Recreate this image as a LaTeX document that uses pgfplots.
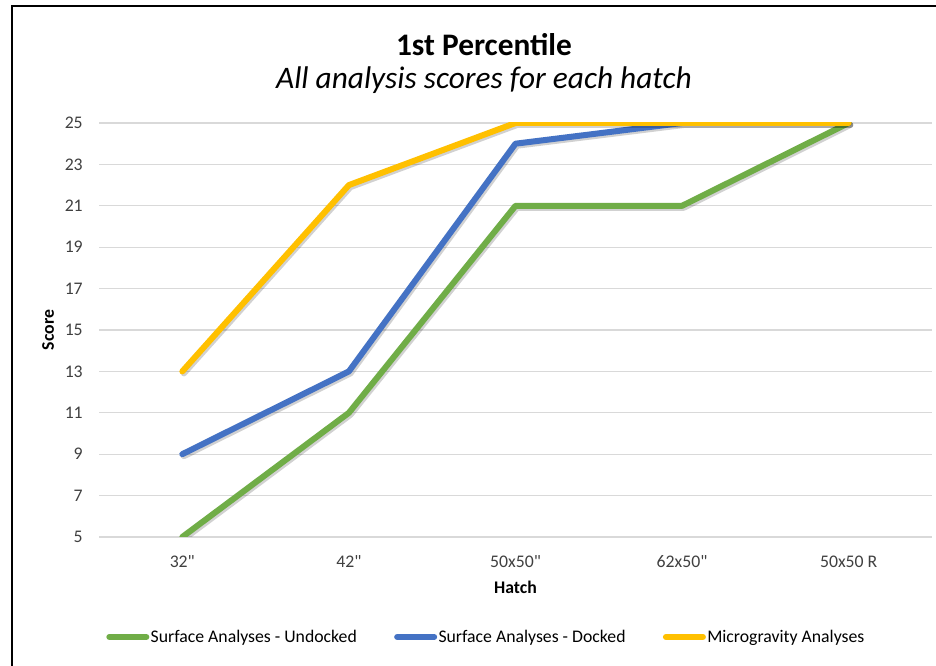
\documentclass[border=0pt]{standalone}
\usepackage{fontspec}
\setmainfont{Carlito}
\usepackage{pgfplots}
\pgfplotsset{compat=1.18}
\definecolor{sgreen}{HTML}{70AD47}
\definecolor{sblue}{HTML}{4472C4}
\definecolor{syellow}{HTML}{FFC000}
\definecolor{gridgray}{HTML}{D9D9D9}
\definecolor{labgray}{HTML}{404040}

\begin{document}
\begin{tikzpicture}[x=0.75pt,y=0.75pt]
\path[use as bounding box, clip] (0,0) rectangle (936,666);
\fill[white] (0,0) rectangle (936,666);
\draw[line width=1.6pt] (12,-20) -- (12,660) -- (960,660);
\node[font=\fontsize{23.5}{28}\selectfont\bfseries] at (484,621) {1st Percentile};
\node[font=\fontsize{23.5}{28}\selectfont\itshape] at (484,586) {All analysis scores for each hatch};
\begin{axis}[
    at={(74.25pt,96.75pt)}, anchor=south west,
    scale only axis,
    width=624.75pt, height=310.5pt,
    xmin=-0.5, xmax=4.5,
    ymin=5, ymax=25,
    ytick={5,7,...,25},
    xtick={0,1,2,3,4},
    xticklabels={32\textquotedbl,42\textquotedbl,50x50\textquotedbl,62x50\textquotedbl,50x50 R},
    axis line style={draw=none},
    tick style={draw=none},
    ymajorgrids=true,
    grid style={gridgray, line width=1pt},
    ticklabel style={font=\fontsize{13.3}{16}\selectfont, text=labgray},
    /pgf/number format/assume math mode=true,
    yticklabel style={inner sep=0pt, anchor=east, xshift=-12pt},
    xticklabel style={inner sep=0pt, anchor=center, yshift=-18.75pt},
    xlabel={Hatch},
    ylabel={Score},
    label style={font=\fontsize{13.3}{16}\selectfont\bfseries},
    xlabel style={at={(axis description cs:0.5,-0.121)}, anchor=center},
    ylabel style={at={(axis description cs:-0.0612,0.5)}, anchor=center},
    legend columns=3,
    legend style={at={(0.4646,-0.2415)}, anchor=center, draw=none, fill=none,
        font=\fontsize{13.3}{16}\selectfont,
        /tikz/every even column/.append style={column sep=27pt},
        nodes={inner sep=1pt}},
    legend image code/.code={\draw[#1, line cap=round] (2.25pt,0pt) -- (30pt,0pt);},
    every axis plot/.append style={line width=4.5pt, line cap=round, line join=round},
]
% shadow + line per series, in Excel draw order
\addplot[black, opacity=0.18, xshift=1.2pt, yshift=-1.5pt, forget plot] coordinates {(0,5) (1,11) (2,21) (3,21) (4,25)};
\addplot[sgreen] coordinates {(0,5) (1,11) (2,21) (3,21) (4,25)};
\addplot[black, opacity=0.18, xshift=1.2pt, yshift=-1.5pt, forget plot] coordinates {(0,9) (1,13) (2,24) (3,25) (4,25)};
\addplot[sblue] coordinates {(0,9) (1,13) (2,24) (3,25) (4,25)};
\addplot[black, opacity=0.18, xshift=1.2pt, yshift=-1.5pt, forget plot] coordinates {(0,13) (1,22) (2,25) (3,25) (4,25)};
\addplot[syellow] coordinates {(0,13) (1,22) (2,25) (3,25) (4,25)};
\legend{Surface Analyses - Undocked, Surface Analyses - Docked, Microgravity Analyses}
\end{axis}
\end{tikzpicture}
\end{document}
